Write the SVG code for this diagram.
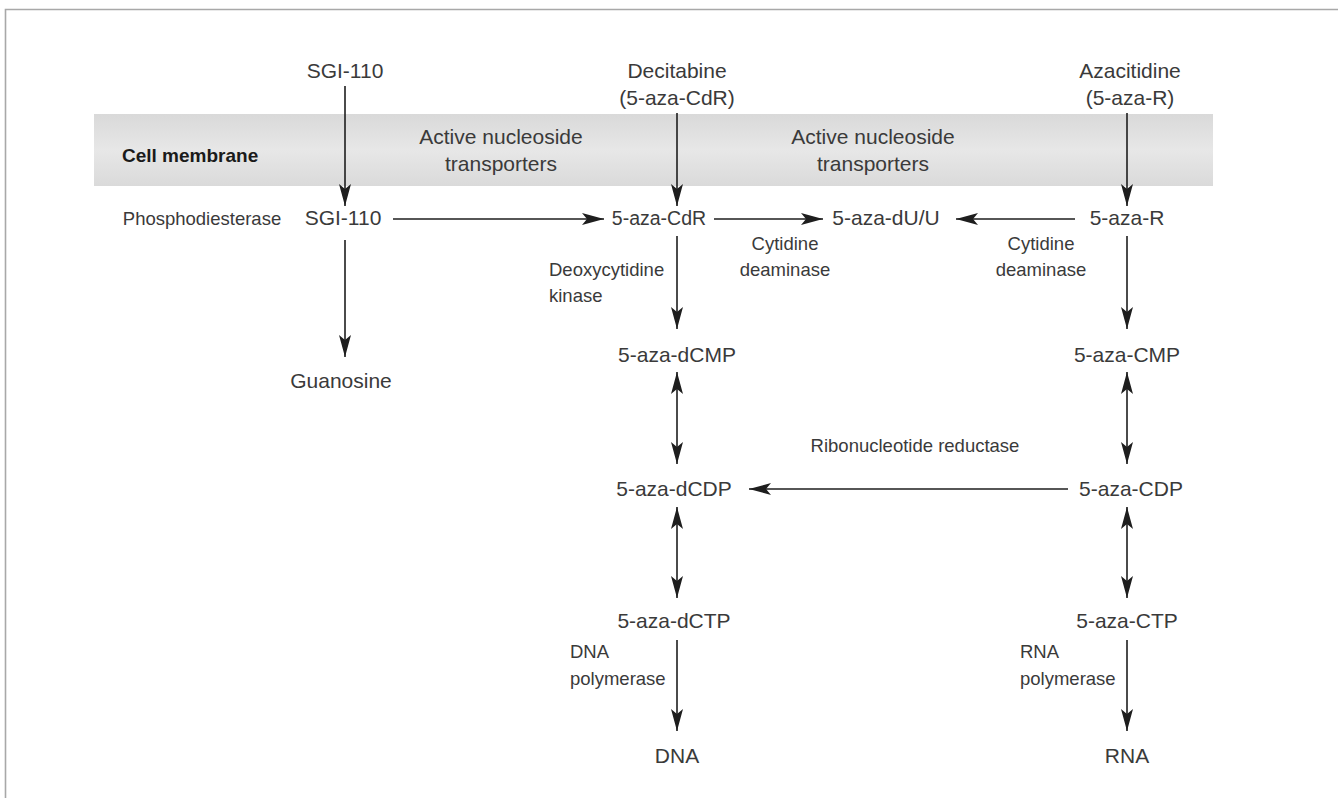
<svg xmlns="http://www.w3.org/2000/svg" width="1338" height="798" viewBox="0 0 1338 798">
<defs>
<linearGradient id="mem" x1="0" y1="0" x2="0" y2="1">
<stop offset="0" stop-color="#d9d9d9"/>
<stop offset="0.5" stop-color="#e7e7e7"/>
<stop offset="1" stop-color="#dadada"/>
</linearGradient>
<marker id="ah" markerUnits="userSpaceOnUse" markerWidth="24" markerHeight="14" refX="22" refY="7" orient="auto-start-reverse" viewBox="0 0 24 14">
<path d="M0,1 L22,7 L0,13 L5,7 Z" fill="#1e1e1e"/>
</marker>
<style>
.t{font-family:"Liberation Sans",Arial,sans-serif;font-size:21px;fill:#3a3a3a;text-anchor:middle}
.s{font-family:"Liberation Sans",Arial,sans-serif;font-size:18.5px;fill:#3a3a3a;text-anchor:middle}
.b{font-family:"Liberation Sans",Arial,sans-serif;font-size:19px;font-weight:bold;fill:#1a1a1a}
.c{stroke:#1e1e1e;stroke-width:1.6;fill:none;marker-end:url(#ah)}
.d{marker-start:url(#ah)}
</style>
</defs>
<rect width="1338" height="798" fill="#fff"/>
<path d="M5.5,798 V9.5 H1338" fill="none" stroke="#a8a8a8" stroke-width="1.6"/>
<g id="membrane">
<rect x="94" y="114" width="1119" height="72" fill="url(#mem)"/>
<text class="b" x="122" y="162">Cell membrane</text>
<text class="t" x="501" y="144">Active nucleoside</text>
<text class="t" x="501" y="171">transporters</text>
<text class="t" x="873" y="144">Active nucleoside</text>
<text class="t" x="873" y="171">transporters</text>
</g>
<g id="connectors">
<line class="c" x1="345" y1="86" x2="345" y2="206"/>
<line class="c" x1="677" y1="113" x2="677" y2="206"/>
<line class="c" x1="1127" y1="113" x2="1127" y2="206"/>
<line class="c" x1="393" y1="219" x2="604" y2="219"/>
<line class="c" x1="714" y1="219" x2="823" y2="219"/>
<line class="c" x1="1075" y1="219" x2="956" y2="219"/>
<line class="c" x1="345" y1="240" x2="345" y2="357"/>
<line class="c" x1="677" y1="236" x2="677" y2="329"/>
<line class="c" x1="1127" y1="236" x2="1127" y2="329"/>
<line class="c d" x1="677" y1="372" x2="677" y2="464"/>
<line class="c d" x1="1127" y1="372" x2="1127" y2="464"/>
<line class="c" x1="1068" y1="489" x2="749" y2="489"/>
<line class="c d" x1="677" y1="507" x2="677" y2="598"/>
<line class="c d" x1="1127" y1="507" x2="1127" y2="598"/>
<line class="c" x1="677" y1="640" x2="677" y2="731"/>
<line class="c" x1="1127" y1="640" x2="1127" y2="731"/>
</g>
<g id="sgi110-top"><text class="t" x="345" y="78">SGI-110</text></g>
<g id="decitabine"><text class="t" x="677" y="78">Decitabine</text><text class="t" x="677" y="105">(5-aza-CdR)</text></g>
<g id="azacitidine"><text class="t" x="1130" y="78">Azacitidine</text><text class="t" x="1130" y="105">(5-aza-R)</text></g>
<g id="phosphodiesterase"><text class="s" x="202" y="225">Phosphodiesterase</text></g>
<g id="sgi110"><text class="t" x="343" y="225">SGI-110</text></g>
<g id="aza-cdr"><text class="t" x="659" y="225" style="font-size:19.5px">5-aza-CdR</text></g>
<g id="aza-du"><text class="t" x="886" y="225">5-aza-dU/U</text></g>
<g id="aza-r"><text class="t" x="1127" y="225">5-aza-R</text></g>
<g id="cda1"><text class="s" x="785" y="250">Cytidine</text><text class="s" x="785" y="276">deaminase</text></g>
<g id="cda2"><text class="s" x="1041" y="250">Cytidine</text><text class="s" x="1041" y="276">deaminase</text></g>
<g id="dck"><text class="s" x="549" y="276" style="text-anchor:start">Deoxycytidine</text><text class="s" x="549" y="302" style="text-anchor:start">kinase</text></g>
<g id="guanosine"><text class="t" x="341" y="388">Guanosine</text></g>
<g id="dcmp"><text class="t" x="677" y="362">5-aza-dCMP</text></g>
<g id="cmp"><text class="t" x="1127" y="362">5-aza-CMP</text></g>
<g id="rnr"><text class="s" x="915" y="452">Ribonucleotide reductase</text></g>
<g id="dcdp"><text class="t" x="674" y="496">5-aza-dCDP</text></g>
<g id="cdp"><text class="t" x="1131" y="496">5-aza-CDP</text></g>
<g id="dctp"><text class="t" x="674" y="628">5-aza-dCTP</text></g>
<g id="ctp"><text class="t" x="1127" y="628">5-aza-CTP</text></g>
<g id="dnapol"><text class="s" x="570" y="658" style="text-anchor:start">DNA</text><text class="s" x="570" y="685" style="text-anchor:start">polymerase</text></g>
<g id="rnapol"><text class="s" x="1020" y="658" style="text-anchor:start">RNA</text><text class="s" x="1020" y="685" style="text-anchor:start">polymerase</text></g>
<g id="dna"><text class="t" x="677" y="763">DNA</text></g>
<g id="rna"><text class="t" x="1127" y="763">RNA</text></g>
</svg>
